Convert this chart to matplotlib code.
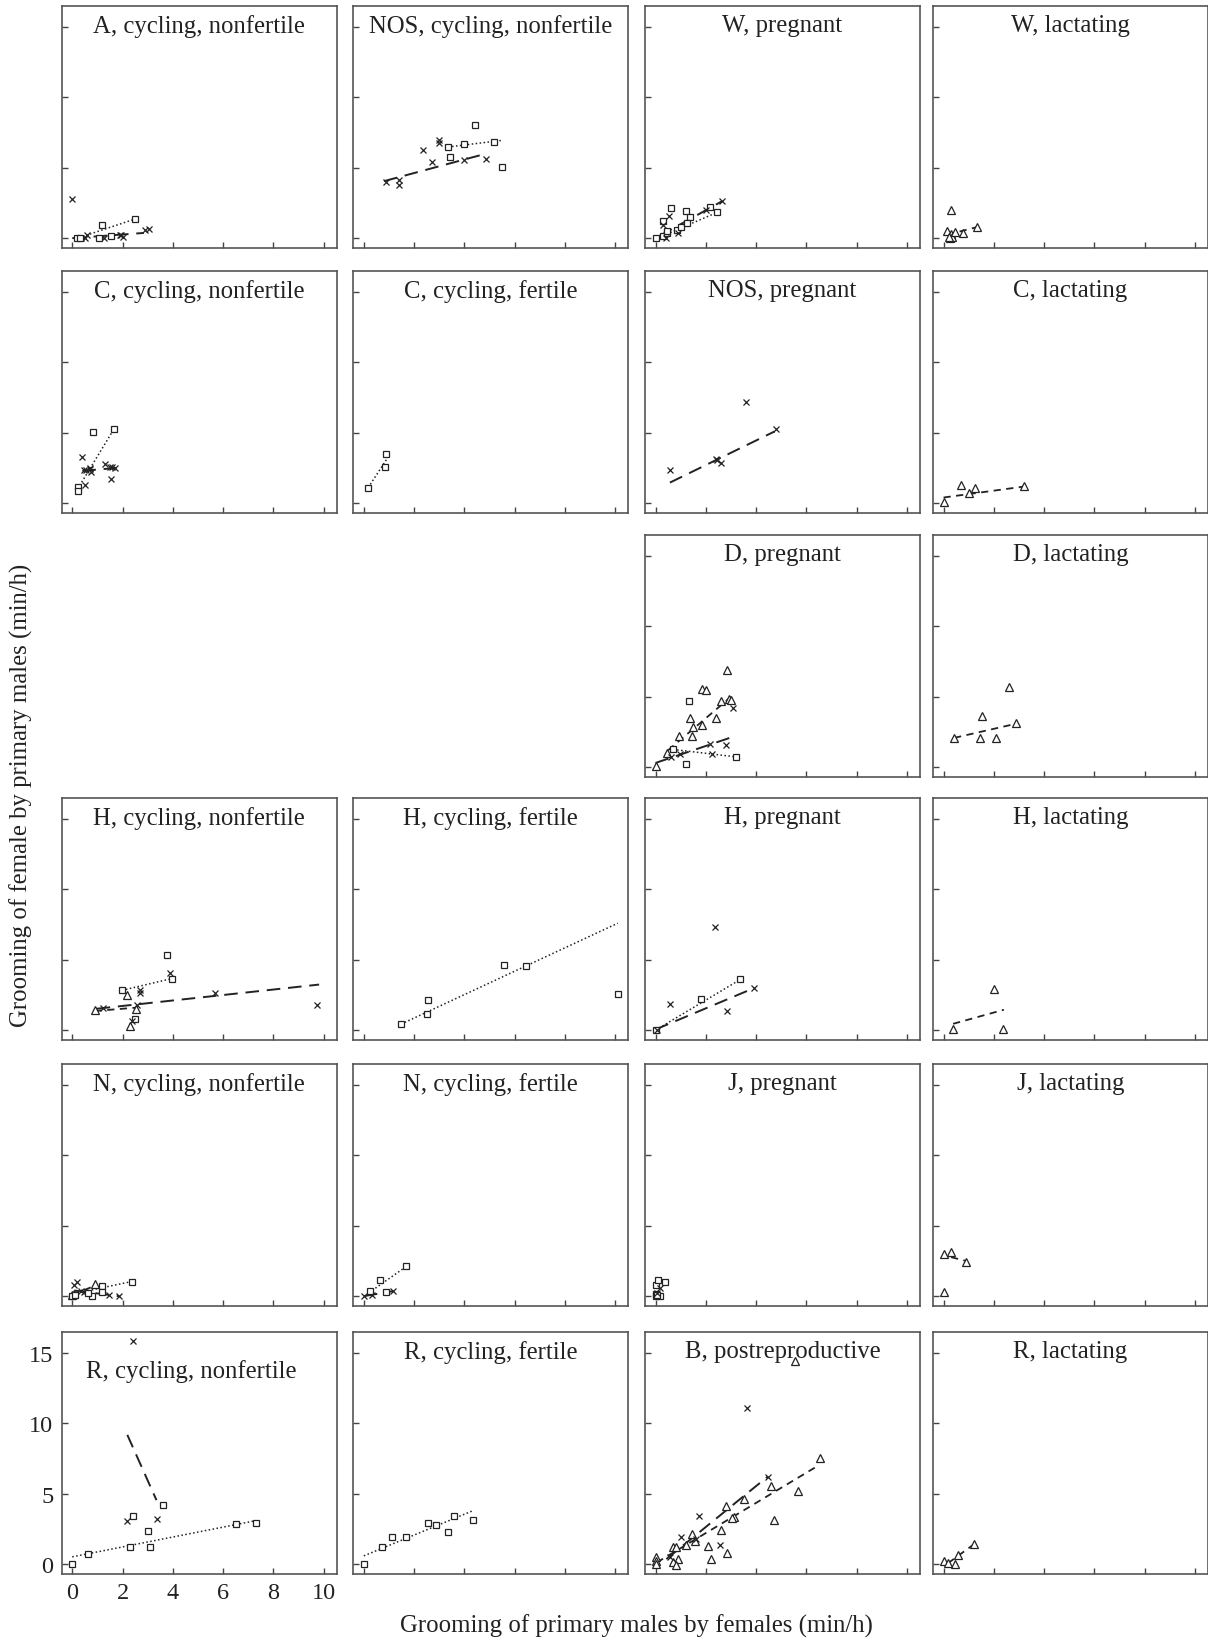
import numpy as np
import matplotlib
matplotlib.use("Agg")
import matplotlib.pyplot as plt

plt.rcParams["font.family"] = ["Liberation Serif", "DejaVu Serif"]
plt.rcParams["font.size"] = 16

# --- data: (xs, ys) per marker type, and fitted lines as (x0, x1, y0, y1) ---
A_CYC_NF = {
    "x": ([0, 0.2, 0.35, 0.5, 0.6, 1.25, 1.9, 2.0, 1.95, 2.9, 3.05],
          [2.8, 0, 0, 0, 0.24, 0, 0.2, 0.1, 0.25, 0.55, 0.64]),
    "sq": ([0.2, 0.3, 1.06, 1.2, 1.53, 2.5], [0, 0, 0, 0.9, 0.17, 1.36]),
}
A_CYC_NF_FIT = {"x": (0, 2.85, 0, 0.37), "sq": (0.55, 2.5, 0.2, 1.36)}

NOS_CYC_NF = {
    "x": ([0.88, 1.4, 1.4, 2.34, 2.7, 3.0, 3.0, 3.97, 4.85],
          [4.0, 4.1, 3.8, 6.3, 5.43, 7.0, 6.74, 5.55, 5.64]),
    "sq": ([3.35, 3.43, 4.0, 4.44, 5.18, 5.48], [6.48, 5.79, 6.69, 8.05, 6.86, 5.07]),
}
NOS_CYC_NF_FIT = {"x": (0.8, 4.85, 4.05, 6.0), "sq": (3.35, 5.5, 6.48, 6.95)}

W_PREG = {
    "sq": ([0, 0.28, 0.46, 0.46, 0.3, 0.6, 0.87, 1.03, 1.23, 1.39, 1.26, 2.18, 2.45],
           [0, 0.12, 0.4, 0.52, 1.19, 2.11, 0.59, 0.81, 1.9, 1.47, 1.07, 2.2, 1.83]),
    "x": ([0.41, 0.3, 0.54, 0.9, 2.0, 2.65], [0, 0.93, 1.59, 0.36, 2.0, 2.63]),
}
W_PREG_FIT = {"x": (0.17, 2.65, 0.17, 2.63), "sq": (0.44, 2.45, 0.28, 1.83)}

W_LACT = {
    "tri": ([0.29, 0.15, 0.25, 0.3, 0.35, 0.45, 0.2, 0.77, 1.32],
            [2.0, 0.5, 0, 0.3, 0.05, 0.45, 0.1, 0.36, 0.8]),
}
W_LACT_FIT = {"tri": (0.15, 1.32, 0.25, 0.78)}

C_CYC_NF = {
    "sq": ([0.81, 1.67, 0.21, 0.21], [5.04, 5.3, 1.18, 0.87]),
    "x": ([0.37, 0.45, 0.55, 0.7, 0.75, 0.72, 0.5, 1.3, 1.5, 1.6, 1.7, 1.56],
          [3.25, 2.35, 2.35, 2.4, 2.2, 2.5, 1.27, 2.75, 2.56, 2.56, 2.52, 1.7]),
}
C_CYC_NF_FIT = {"sq": (0.21, 1.67, 1.0, 5.3), "x": (0.4, 1.75, 2.3, 2.5)}

C_CYC_F = {"sq": ([0.17, 0.86, 0.9], [1.1, 2.59, 3.48])}
C_CYC_F_FIT = {"sq": (0.17, 0.9, 1.1, 3.1)}

NOS_PREG = {"x": ([0.57, 2.4, 2.45, 2.62, 3.58, 4.78], [2.33, 3.15, 3.1, 2.87, 7.18, 5.27])}
NOS_PREG_FIT = {"x": (0.57, 4.74, 1.46, 5.1)}

C_LACT = {"tri": ([0, 0.7, 1.0, 1.26, 3.2], [0.1, 1.3, 0.7, 1.1, 1.22])}
C_LACT_FIT = {"tri": (0, 3.2, 0.4, 1.18)}

D_PREG = {
    "tri": ([0, 0.44, 0.93, 1.43, 1.5, 1.36, 1.85, 1.83, 2.0, 2.4, 2.6, 2.86, 2.93, 3.02],
            [0.05, 0.99, 2.18, 2.18, 2.84, 3.5, 3.0, 5.57, 5.45, 3.5, 4.67, 6.87, 4.86, 4.74]),
    "sq": ([1.23, 0.7, 1.34, 3.2], [0.24, 1.26, 4.69, 0.73]),
    "x": ([0.6, 0.97, 2.16, 2.25, 2.8, 3.09], [0.7, 0.94, 1.66, 0.94, 1.54, 4.22]),
}
D_PREG_FIT = {"tri": (0.5, 3.0, 1.2, 5.0), "x": (0, 3.15, 0.3, 2.2), "sq": (0.7, 3.2, 1.26, 0.73)}

D_LACT = {"tri": ([0.42, 1.43, 2.09, 1.52, 2.62, 2.87], [2.08, 2.06, 2.06, 3.67, 5.73, 3.13])}
D_LACT_FIT = {"tri": (0.42, 2.87, 2.08, 3.08)}

H_CYC_NF = {
    "sq": ([3.77, 3.97, 1.98, 2.49], [5.33, 3.67, 2.88, 0.81]),
    "x": ([3.89, 2.7, 2.7, 5.67, 9.75, 1.22, 2.57, 2.37], [4.07, 2.83, 2.64, 2.64, 1.81, 1.6, 1.81, 0.62]),
    "tri": ([2.19, 0.89, 2.54, 2.29], [2.48, 1.4, 1.48, 0.29]),
}
H_CYC_NF_FIT = {"sq": (1.98, 3.97, 2.83, 3.67), "x": (0.97, 9.82, 1.52, 3.24), "tri": (0.89, 2.54, 1.36, 1.6)}

H_CYC_F = {"sq": ([1.48, 2.5, 2.55, 5.56, 6.45, 10.1], [0.43, 1.12, 2.12, 4.62, 4.57, 2.55])}
H_CYC_F_FIT = {"sq": (1.48, 10.1, 0.43, 7.6)}

H_PREG = {
    "sq": ([0, 1.79, 3.37], [0, 2.19, 3.62]),
    "x": ([0.05, 0.56, 2.35, 2.86, 3.93], [0.02, 1.86, 7.36, 1.33, 3.02]),
}
H_PREG_FIT = {"sq": (0, 3.37, 0, 3.6), "x": (0, 3.93, 0.05, 3.0)}

H_LACT = {"tri": ([0.38, 2.0, 2.38], [0.1, 2.9, 0.1])}
H_LACT_FIT = {"tri": (0.38, 2.4, 0.45, 1.45)}

N_CYC_NF = {
    "x": ([0.2, 0.08, 0.33, 0.46, 1.48, 1.86], [1.0, 0.8, 0.4, 0.28, 0.1, 0]),
    "tri": ([0.92, 0, 0.08], [0.88, 0.05, 0.17]),
    "sq": ([1.17, 2.37, 1.17, 0.79, 0.64, 0, 0.12], [0.71, 1.04, 0.28, 0, 0.21, 0, 0.1]),
}
N_CYC_NF_FIT = {"sq": (0, 2.37, 0.15, 1.04), "x": (0.08, 1.86, 0.4, 0.0), "tri": (0, 0.92, 0.1, 0.75)}

N_CYC_F = {
    "x": ([0, 0.33, 1.17], [0, 0.1, 0.4]),
    "sq": ([0.26, 0.66, 1.68, 0.89], [0.36, 1.18, 2.11, 0.28]),
}
N_CYC_F_FIT = {"sq": (0.2, 1.68, 0.24, 2.1), "x": (0, 1.17, 0, 0.36)}

J_PREG = {
    "sq": ([0, 0, 0.18, 0, 0.1, 0.38, 0.05], [0, 0.17, 0, 0.76, 1.18, 1.0, 0.1]),
    "x": ([0.18, 0.05], [0.57, 0.2]),
}
J_PREG_FIT = {}

J_LACT = {"tri": ([0, 0.3, 0.9, 0], [3.0, 3.13, 2.46, 0.28])}
J_LACT_FIT = {"tri": (0.3, 0.9, 2.77, 2.5)}

R_CYC_NF = {
    "sq": ([0, 0.64, 2.3, 3.09, 3.0, 2.4, 3.6, 6.53, 7.3], [0, 0.71, 1.19, 1.19, 2.33, 3.4, 4.23, 2.85, 2.9]),
    "x": ([2.19, 3.39, 2.42], [3.04, 3.2, 15.87]),
}
R_CYC_NF_FIT = {"sq": (0, 7.3, 0.52, 3.09), "x": (2.19, 3.35, 9.19, 4.55)}

R_CYC_F = {"sq": ([0, 0.71, 1.1, 1.68, 2.55, 2.88, 3.34, 3.6, 4.34], [0, 1.19, 1.9, 1.9, 2.9, 2.78, 2.3, 3.44, 3.14])}
R_CYC_F_FIT = {"sq": (0, 4.34, 0.59, 3.8)}

B_POST = {
    "tri": ([5.54, 6.56, 4.59, 5.66, 3.5, 2.81, 3.11, 3.06, 4.72, 2.6, 1.45, 1.58, 1.2, 0.69, 0.82,
             2.09, 2.22, 2.86, 0.89, 0.69, 0.82, 0, 0, 0],
            [14.42, 7.58, 5.53, 5.18, 4.63, 4.16, 3.33, 3.25, 3.16, 2.45, 2.14, 1.66, 1.35, 1.24, 1.19,
             1.26, 0.4, 0.78, 0.4, 0.12, -0.05, 0.48, 0.24, 0]),
    "x": ([3.62, 4.46, 1.71, 1.02, 2.55, 0.56, 1.6], [11.09, 6.22, 3.44, 1.95, 1.38, 0.48, 1.8]),
}
B_POST_FIT = {"x": (0.43, 4.46, 0.36, 6.22), "tri": (0.05, 6.43, 0.12, 6.96)}

R_LACT = {"tri": ([0, 0.46, 0.59, 1.22, 0.18], [0.24, 0, 0.64, 1.43, 0.07])}
R_LACT_FIT = {"tri": (0.18, 1.22, 0.07, 1.43)}

# (row, col, title, points, fits)
PANELS = [
    (0, 0, "A, cycling, nonfertile", A_CYC_NF, A_CYC_NF_FIT),
    (0, 1, "NOS, cycling, nonfertile", NOS_CYC_NF, NOS_CYC_NF_FIT),
    (0, 2, "W, pregnant", W_PREG, W_PREG_FIT),
    (0, 3, "W, lactating", W_LACT, W_LACT_FIT),
    (1, 0, "C, cycling, nonfertile", C_CYC_NF, C_CYC_NF_FIT),
    (1, 1, "C, cycling, fertile", C_CYC_F, C_CYC_F_FIT),
    (1, 2, "NOS, pregnant", NOS_PREG, NOS_PREG_FIT),
    (1, 3, "C, lactating", C_LACT, C_LACT_FIT),
    (2, 2, "D, pregnant", D_PREG, D_PREG_FIT),
    (2, 3, "D, lactating", D_LACT, D_LACT_FIT),
    (3, 0, "H, cycling, nonfertile", H_CYC_NF, H_CYC_NF_FIT),
    (3, 1, "H, cycling, fertile", H_CYC_F, H_CYC_F_FIT),
    (3, 2, "H, pregnant", H_PREG, H_PREG_FIT),
    (3, 3, "H, lactating", H_LACT, H_LACT_FIT),
    (4, 0, "N, cycling, nonfertile", N_CYC_NF, N_CYC_NF_FIT),
    (4, 1, "N, cycling, fertile", N_CYC_F, N_CYC_F_FIT),
    (4, 2, "J, pregnant", J_PREG, J_PREG_FIT),
    (4, 3, "J, lactating", J_LACT, J_LACT_FIT),
    (5, 0, "R, cycling, nonfertile", R_CYC_NF, R_CYC_NF_FIT),
    (5, 1, "R, cycling, fertile", R_CYC_F, R_CYC_F_FIT),
    (5, 2, "B, postreproductive", B_POST, B_POST_FIT),
    (5, 3, "R, lactating", R_LACT, R_LACT_FIT),
]

X_TICKS = [0, 2, 4, 6, 8, 10]
Y_TICKS = [0, 5, 10, 15]

# --- styles ---
INK = "#222222"
MARKERS = {
    "sq": dict(marker="s", ms=4.2, mfc="white", mec=INK, mew=0.9),
    "x": dict(marker="x", ms=4.8, mec=INK, mew=0.9),
    "tri": dict(marker="^", ms=5.2, mfc="white", mec=INK, mew=0.9),
}
LINES = {
    "sq": dict(ls=(0, (1, 1.6)), lw=1.1),
    "x": dict(ls=(0, (7, 4)), lw=1.4),
    "tri": dict(ls=(0, (4, 3)), lw=1.3),
}

W, H = 1208, 1640
col_left = [61.7, 353.3, 645, 933]
row_bottom = [249, 514, 778, 1041, 1307, 1575]
pw, ph = 275, 242

fig = plt.figure(figsize=(W / 100, H / 100), dpi=100)

for row, col, title, pts, fits in PANELS:
    ax = fig.add_axes([col_left[col] / W, 1 - row_bottom[row] / H, pw / W, ph / H])
    for key, (x0, x1, y0, y1) in fits.items():
        ax.plot([x0, x1], [y0, y1], color=INK, **LINES[key])
    for key, (xs, ys) in pts.items():
        ax.plot(xs, ys, ls="none", **MARKERS[key])
    ax.set_xlim(-0.42, 10.52)
    ax.set_ylim(-0.7, 16.5)
    ax.set_xticks(X_TICKS)
    ax.set_yticks(Y_TICKS)
    ax.tick_params(direction="in", length=4.5, width=1, color="#444444",
                   top=False, right=False, labelsize=17.5, pad=6, labelcolor=INK)
    if not (row == 5 and col == 0):
        ax.set_xticklabels([])
        ax.set_yticklabels([])
    for s in ax.spines.values():
        s.set_color("#555555")
        s.set_linewidth(1.2)
    special = title == "R, cycling, nonfertile"
    ty = 0.84 if special else 0.92
    tx = 0.47 if special else 0.5
    ax.text(tx, ty, title, transform=ax.transAxes, ha="center", va="center",
            fontsize=17.8, color=INK)

fig.text(636 / W, 1 - 1626 / H, "Grooming of primary males by females (min/h)",
         ha="center", va="center", fontsize=17.8, color=INK)
fig.text(21 / W, 1 - 795 / H, "Grooming of female by primary males (min/h)",
         ha="center", va="center", rotation=90, fontsize=17.8, color=INK)

fig.savefig("out.png", dpi=100)
